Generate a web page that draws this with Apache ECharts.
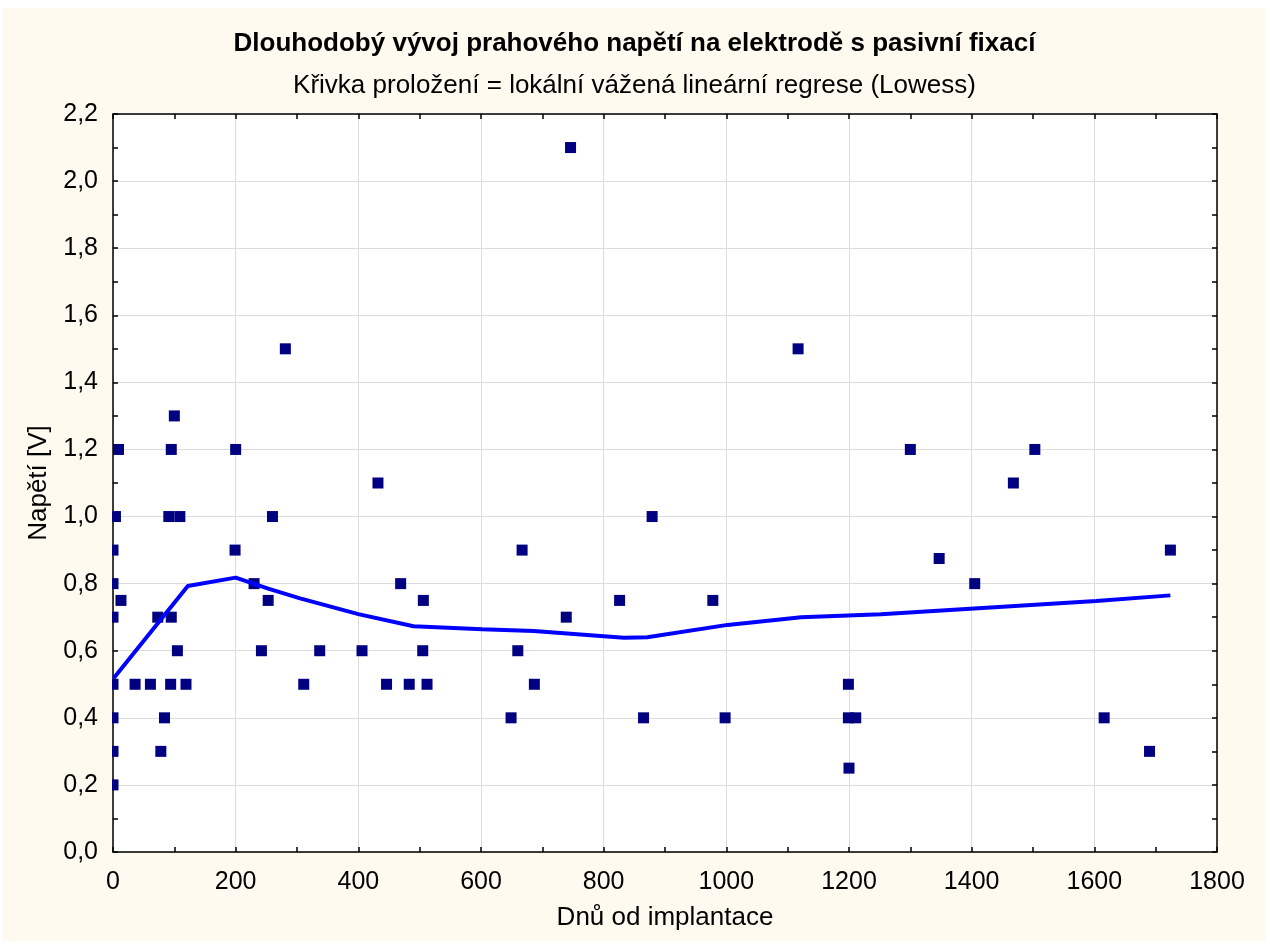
<!DOCTYPE html>
<html>
<head>
<meta charset="utf-8">
<script src="https://cdn.jsdelivr.net/npm/echarts@6/dist/echarts.min.js"></script>
<style>
  html, body { margin: 0; padding: 0; background: #ffffff; }
  #chart { position: absolute; left: 3px; top: 8px; width: 1263px; height: 933px; background: #fefaf0; }
</style>
</head>
<body>
<div id="chart"></div>
<script>
// Threshold voltage measurements: [days since implantation, voltage V]
const measurements = [
  [0, 0.2], [0, 0.3], [0, 0.4], [0, 0.5], [0, 0.7], [0, 0.8], [0, 0.9],
  [4, 1.0], [9, 1.2], [13, 0.75], [36, 0.5], [61, 0.5], [73, 0.7], [78, 0.3],
  [84, 0.4], [91, 1.0], [94, 0.5], [95, 0.7], [95, 1.2], [100, 1.3], [105, 0.6],
  [109, 1.0], [119, 0.5], [199, 0.9], [200, 1.2], [230, 0.8], [242, 0.6],
  [253, 0.75], [260, 1.0], [281, 1.5], [311, 0.5], [337, 0.6], [406, 0.6],
  [432, 1.1], [446, 0.5], [469, 0.8], [483, 0.5], [505, 0.6], [506, 0.75],
  [512, 0.5], [649, 0.4], [660, 0.6], [667, 0.9], [687, 0.5], [739, 0.7],
  [746, 2.1], [826, 0.75], [865, 0.4], [879, 1.0], [978, 0.75], [998, 0.4],
  [1117, 1.5], [1199, 0.5], [1199, 0.4], [1200, 0.25], [1211, 0.4],
  [1300, 1.2], [1347, 0.875], [1405, 0.8], [1468, 1.1], [1503, 1.2],
  [1616, 0.4], [1690, 0.3], [1724, 0.9]
];

// Lowess fitted curve: [days, voltage V]
const lowessCurve = [
  [1, 0.518], [122, 0.793], [200, 0.818], [253, 0.785], [305, 0.756],
  [400, 0.709], [490, 0.673], [602, 0.664], [686, 0.659], [833, 0.639],
  [871, 0.640], [1002, 0.677], [1122, 0.700], [1252, 0.709], [1404, 0.726],
  [1603, 0.748], [1724, 0.765]
];

const titleText = 'Dlouhodobý vývoj prahového napětí na elektrodě s pasivní fixací';
const subtitleText = 'Křivka proložení = lokální vážená lineární regrese (Lowess)';
const xAxisName = 'Dnů od implantace';
const yAxisName = 'Napětí [V]';
const xTicks = { min: 0, max: 1800, step: 200 };
const yTicks = { min: 0, max: 2.2, step: 0.2 };

const FONT = '"Liberation Sans", Arial, sans-serif';
const FS = 25;
const grid = { left: 110, right: 49, top: 106, bottom: 89 };
const bg = '#fefaf0';

const commaFmt = v => v.toFixed(1).replace('.', ',');
const plainFmt = v => String(v);

const tickStyle = { show: true, inside: true, length: 5, lineStyle: { color: '#000', width: 1.5 } };
const minorStyle = { show: true, splitNumber: 2, length: 5, lineStyle: { color: '#000', width: 1.5 } };
const lineStyle = { show: true, onZero: false, lineStyle: { color: '#000', width: 1.5 } };

const chart = echarts.init(document.getElementById('chart'), null, { renderer: 'canvas' });

chart.setOption({
  backgroundColor: 'transparent',
  animation: false,
  textStyle: { fontFamily: FONT },
  title: [
    { text: titleText, left: 'center', top: 18,
      textStyle: { fontFamily: FONT, fontSize: 26, fontWeight: 'bold', color: '#000' } },
    { text: subtitleText, left: 'center', top: 60,
      textStyle: { fontFamily: FONT, fontSize: 26, fontWeight: 'normal', color: '#000' } }
  ],
  grid: { left: grid.left, right: grid.right, top: grid.top, bottom: grid.bottom,
          show: true, backgroundColor: '#ffffff', borderWidth: 0 },
  xAxis: [
    { type: 'value', min: xTicks.min, max: xTicks.max, interval: xTicks.step, position: 'bottom',
      axisLine: lineStyle, axisTick: tickStyle, minorTick: minorStyle,
      axisLabel: { color: '#000', fontSize: FS, margin: 18, fontFamily: FONT, formatter: plainFmt },
      splitLine: { show: true, lineStyle: { color: '#dcdcdc', width: 1 } },
      name: xAxisName, nameLocation: 'middle', nameGap: 53,
      nameTextStyle: { color: '#000', fontSize: 26, fontFamily: FONT } },
    { type: 'value', min: xTicks.min, max: xTicks.max, interval: xTicks.step, position: 'top',
      axisLine: lineStyle, axisTick: tickStyle, minorTick: minorStyle,
      axisLabel: { show: false }, splitLine: { show: false } }
  ],
  yAxis: [
    { type: 'value', min: yTicks.min, max: yTicks.max, interval: yTicks.step, position: 'left',
      axisLine: lineStyle, axisTick: tickStyle, minorTick: minorStyle,
      axisLabel: { color: '#000', fontSize: FS, margin: 15, fontFamily: FONT, formatter: commaFmt },
      splitLine: { show: true, lineStyle: { color: '#dcdcdc', width: 1 } },
      name: yAxisName, nameLocation: 'middle', nameGap: 61, nameRotate: 90,
      nameTextStyle: { color: '#000', fontSize: 26, fontFamily: FONT } },
    { type: 'value', min: yTicks.min, max: yTicks.max, interval: yTicks.step, position: 'right',
      axisLine: lineStyle, axisTick: tickStyle, minorTick: minorStyle,
      axisLabel: { show: false }, splitLine: { show: false } }
  ],
  // strip along the left edge so markers at day 0 show only inside the plot
  graphic: [
    { type: 'rect', z: 100, silent: true,
      shape: { x: grid.left - 9, y: grid.top - 2, width: 8, height: 933 - grid.top - grid.bottom + 4 },
      style: { fill: bg } }
  ],
  series: [
    { type: 'scatter', data: measurements, symbol: 'rect', symbolSize: 11,
      itemStyle: { color: '#000080', opacity: 1 }, z: 3 },
    { type: 'line', data: lowessCurve, showSymbol: false, symbol: 'none',
      lineStyle: { color: '#0000ff', width: 4 }, z: 4 }
  ]
});
</script>
</body>
</html>
